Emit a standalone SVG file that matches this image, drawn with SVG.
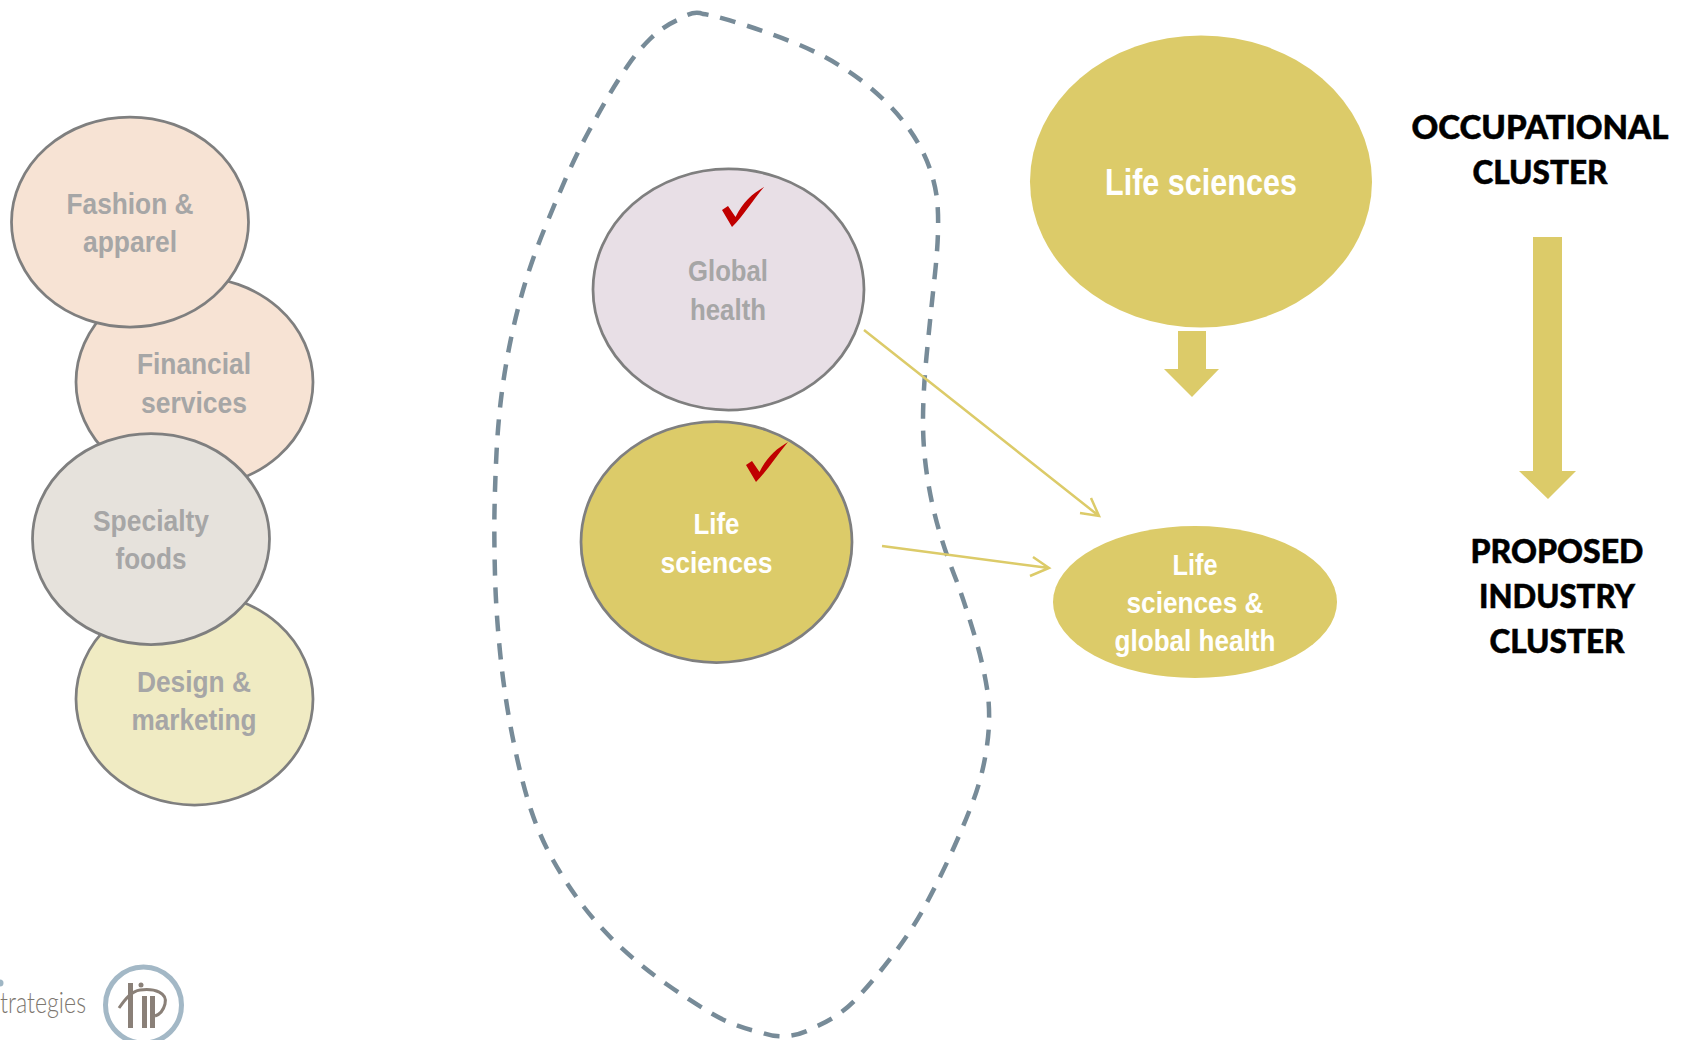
<svg xmlns="http://www.w3.org/2000/svg" width="1689" height="1040" viewBox="0 0 1689 1040">
<style>
.n{stroke:#7f7f7f;stroke-width:2.750}
.t{font-family:"Liberation Sans Narrow","Liberation Sans",Arial,sans-serif;font-weight:700;text-anchor:middle;font-size:30px}
.g{fill:#a6a6a6}
.w{fill:#fff}
.h{font-family:Lato,"Open Sans",sans-serif;font-weight:900;font-size:32px;text-anchor:middle;fill:#000;stroke:#000;stroke-width:.5}
.c{fill:none;stroke:#dccb69;stroke-width:2.500}
.k{fill:#c00000}
</style>
<rect width="1689" height="1040" fill="#fff"/>
<path id="boundary" fill="none" stroke="#778b98" stroke-width="4.500" stroke-dasharray="16 12" d="M703 14Q693 10 677.500 20Q662 27 649.500 39.500Q637 52 627.500 66Q618 80 610 93.500Q602 107 589.500 130Q577 153 566 178Q555 203 544 230Q533 257 525 283.500Q517 310 511 338.500Q505 367 501.500 395Q498 423 496.500 453Q495 483 494.500 510Q494 537 495 575Q496 613 500.500 656.500Q505 700 513.500 741.500Q522 783 531 810Q540 837 553.500 861Q567 885 583.500 906.500Q600 928 621 947.500Q642 967 667 984.500Q692 1002 713.500 1014.500Q735 1027 761.500 1032.500Q788 1042 814 1027.500Q840 1017 859 996Q878 975 895 952.500Q912 930 925 906Q938 882 950 856Q962 830 972 804Q982 778 986 752Q991 723 988 695Q984 667 975 637Q966 607 957 582Q947 557 939.500 532Q932 507 927.500 478.500Q923 450 923 421.500Q923 393 926.500 356.500Q930 320 935 273.500Q940 227 937 198.500Q933 170 920 146.500Q907 123 887 103Q867 83 843.500 68Q820 53 793.500 42.500Q767 32 740 23.500Q713 15 703 14Z"/>
<g id="node-design"><ellipse class="n" cx="194.500" cy="699" rx="118.500" ry="106" fill="#f0ebc3"/><text class="t g" x="194" y="692" textLength="114" lengthAdjust="spacingAndGlyphs">Design &amp;</text><text class="t g" x="194" y="730" textLength="125" lengthAdjust="spacingAndGlyphs">marketing</text></g>
<g id="node-financial"><ellipse class="n" cx="194.500" cy="382" rx="118.500" ry="105" fill="#f7e3d4"/><text class="t g" x="194" y="374" textLength="114" lengthAdjust="spacingAndGlyphs">Financial</text><text class="t g" x="194" y="413" textLength="106" lengthAdjust="spacingAndGlyphs">services</text></g>
<g id="node-fashion"><ellipse class="n" cx="130" cy="222" rx="118.500" ry="105" fill="#f7e3d4"/><text class="t g" x="130" y="214" textLength="127" lengthAdjust="spacingAndGlyphs">Fashion &amp;</text><text class="t g" x="130" y="252" textLength="94" lengthAdjust="spacingAndGlyphs">apparel</text></g>
<g id="node-specialty"><ellipse class="n" cx="151" cy="539" rx="118.500" ry="105.500" fill="#e6e2dc"/><text class="t g" x="151" y="531" textLength="116" lengthAdjust="spacingAndGlyphs">Specialty</text><text class="t g" x="151" y="569" textLength="71" lengthAdjust="spacingAndGlyphs">foods</text></g>
<g id="node-global"><ellipse class="n" cx="728.500" cy="289.500" rx="135.500" ry="120.500" fill="#e8dfe6"/><text class="t g" x="728" y="281" textLength="80" lengthAdjust="spacingAndGlyphs">Global</text><text class="t g" x="728" y="320" textLength="76" lengthAdjust="spacingAndGlyphs">health</text><path class="k" d="M764 187C752 194 743 202 735.500 217L728 206L722 210L732 227C744 215 752 201 764 187Z"/></g>
<g id="node-life"><ellipse class="n" cx="716.500" cy="542" rx="135.500" ry="120.500" fill="#dccb69"/><text class="t w" x="716.500" y="534" textLength="46" lengthAdjust="spacingAndGlyphs">Life</text><text class="t w" x="716.500" y="573" textLength="112" lengthAdjust="spacingAndGlyphs">sciences</text><path class="k" d="M788 442C776 449 767 457 759.500 472L752 461L746 465L756 482C768 470 776 456 788 442Z"/></g>
<g id="node-occupational"><ellipse cx="1201" cy="181.500" rx="171" ry="146" fill="#dccb69"/><text class="t w" x="1201" y="195" style="font-size:36px" textLength="192" lengthAdjust="spacingAndGlyphs">Life sciences</text></g>
<g id="node-combined"><ellipse cx="1195" cy="602" rx="142" ry="76" fill="#dccb69"/><text class="t w" x="1195" y="575" textLength="45" lengthAdjust="spacingAndGlyphs">Life</text><text class="t w" x="1195" y="613" textLength="137" lengthAdjust="spacingAndGlyphs">sciences &amp;</text><text class="t w" x="1195" y="651" textLength="161" lengthAdjust="spacingAndGlyphs">global health</text></g>
<g id="connectors">
<path class="c" d="M864 330L1099 516M1091 498L1099 516L1080 513"/>
<path class="c" d="M882 546L1049 568M1033 557L1049 568L1030 576"/>
<path fill="#dccb69" d="M1178 331H1206V369H1219L1192 397L1164 369H1178Z"/>
<path fill="#dccb69" d="M1533 237H1562V471H1576L1548 499L1519 471H1533Z"/>
</g>
<g id="labels">
<text class="h" x="1540" y="139" textLength="257" lengthAdjust="spacingAndGlyphs">OCCUPATIONAL</text>
<text class="h" x="1540" y="184" textLength="135" lengthAdjust="spacingAndGlyphs">CLUSTER</text>
<text class="h" x="1557" y="563" textLength="173" lengthAdjust="spacingAndGlyphs">PROPOSED</text>
<text class="h" x="1557" y="608" textLength="156" lengthAdjust="spacingAndGlyphs">INDUSTRY</text>
<text class="h" x="1557" y="653" textLength="135" lengthAdjust="spacingAndGlyphs">CLUSTER</text>
</g>
<g id="logo">
<text x="0" y="1013" font-family="Lato,sans-serif" font-weight="300" font-size="29" fill="#7d7770" textLength="86" lengthAdjust="spacingAndGlyphs">trategies</text>
<circle cx="0" cy="983" r="3.500" fill="#9fb6c4"/>
<circle cx="143.500" cy="1005" r="38" fill="none" stroke="#a3b8c6" stroke-width="5"/>
<path fill="#8a8078" d="M128 983H133V1028H128ZM142 996H147V1028H142ZM150 996H155V1028H150Z"/>
<circle cx="141" cy="985" r="2.500" fill="#8a8078"/>
<path fill="none" stroke="#8a8078" stroke-width="3" d="M119 1008C126 998 132 991 140 990C155 988 168 993 165 1004C163 1012 158 1015 155 1016"/>
</g>
</svg>
